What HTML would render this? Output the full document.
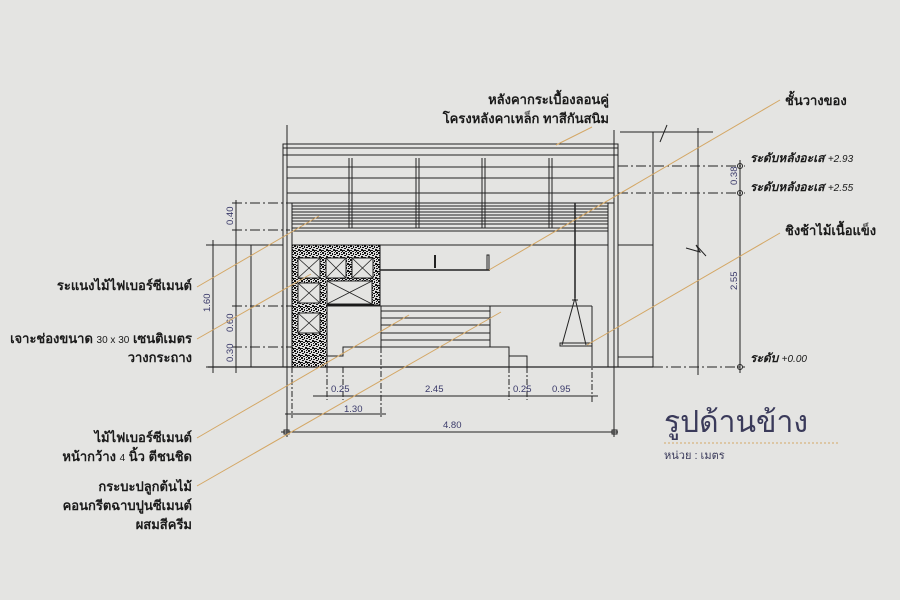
<!DOCTYPE html>
<html><head><meta charset="utf-8"><style>
html,body{margin:0;padding:0;background:#e4e4e2;}
svg{display:block}
text{font-family:"Liberation Sans","DejaVu Sans",sans-serif;}
.t{font-size:13px;fill:#1a1a1a;font-weight:bold}
.d{font-size:9.5px;fill:#3a3a6a}
.lv{font-size:12px;fill:#1a1a1a;font-style:italic;font-weight:bold}
</style></head><body>
<svg width="900" height="600" viewBox="0 0 900 600" xmlns="http://www.w3.org/2000/svg">
<defs>
<pattern id="n" width="7" height="7" patternUnits="userSpaceOnUse">
<rect width="7" height="7" fill="#ddd"/>
<rect x="0" y="0" width="2" height="2" fill="#111"/><rect x="3" y="1" width="1" height="2" fill="#111"/>
<rect x="5" y="2" width="2" height="1" fill="#111"/><rect x="1" y="3" width="2" height="1" fill="#111"/>
<rect x="4" y="4" width="2" height="2" fill="#111"/><rect x="0" y="5" width="2" height="1" fill="#111"/>
<rect x="6" y="5" width="1" height="2" fill="#111"/><rect x="2" y="6" width="2" height="1" fill="#111"/>
<rect x="5" y="0" width="1" height="1" fill="#111"/>
</pattern>
</defs>
<rect width="900" height="600" fill="#e4e4e2"/>
<g stroke="#222" stroke-width="1" fill="none">
<line x1="287" y1="125" x2="287" y2="437"/>
<line x1="614" y1="130" x2="614" y2="437"/>
<line x1="283" y1="144" x2="283" y2="367"/>
<line x1="292" y1="203" x2="292" y2="367"/>
<line x1="608" y1="203" x2="608" y2="367"/>
<line x1="618" y1="144" x2="618" y2="367"/>
<rect x="283" y="144" width="335" height="11"/>
<line x1="283" y1="148" x2="618" y2="148"/>
<rect x="287" y="155" width="327" height="38"/>
<line x1="287" y1="167" x2="614" y2="167"/>
<line x1="287" y1="178" x2="614" y2="178"/>
<g stroke-width="1">
<line x1="349" y1="158" x2="349" y2="228"/><line x1="352" y1="158" x2="352" y2="228"/>
<line x1="416" y1="158" x2="416" y2="228"/><line x1="419" y1="158" x2="419" y2="228"/>
<line x1="482" y1="158" x2="482" y2="228"/><line x1="485" y1="158" x2="485" y2="228"/>
<line x1="549" y1="158" x2="549" y2="228"/><line x1="552" y1="158" x2="552" y2="228"/>
</g>
<rect x="287" y="193" width="327" height="10"/>
<g stroke-width="1">
<line x1="292" y1="206" x2="608" y2="206"/><line x1="292" y1="209" x2="608" y2="209"/>
<line x1="292" y1="212" x2="608" y2="212"/><line x1="292" y1="215" x2="608" y2="215"/>
<line x1="292" y1="218" x2="608" y2="218"/><line x1="292" y1="221" x2="608" y2="221"/>
<line x1="292" y1="224" x2="608" y2="224"/>
</g>
<line x1="292" y1="228" x2="608" y2="228"/>
<line x1="292" y1="231" x2="608" y2="231"/>
<line x1="240" y1="245" x2="283" y2="245"/>
<line x1="292" y1="245" x2="608" y2="245"/>
<line x1="618" y1="245" x2="653" y2="245"/>
<line x1="208" y1="367" x2="653" y2="367" stroke-width="1.3"/>
<line x1="618" y1="357" x2="653" y2="357"/>
<line x1="251" y1="245" x2="251" y2="367"/>
</g>
<path d="M292 245 H380 V305 H327 V367 H292 Z" fill="url(#n)" stroke="#111"/>
<g stroke="#222" fill="#e4e4e2" stroke-width="1">
<rect x="298" y="258" width="22" height="20"/><rect x="326" y="258" width="20" height="20"/><rect x="352" y="258" width="21" height="20"/>
<rect x="298" y="283" width="22" height="20"/><rect x="327" y="281" width="45" height="23"/>
<rect x="298" y="313" width="22" height="20"/>
</g>
<g stroke="#222" stroke-width="0.8">
<path d="M298 258 L320 278 M320 258 L298 278 M326 258 L346 278 M346 258 L326 278 M352 258 L373 278 M373 258 L352 278"/>
<path d="M298 283 L320 303 M320 283 L298 303 M327 281 L372 304 M372 281 L327 304 M298 313 L320 333 M320 313 L298 333"/>
</g>
<g stroke="#222" fill="none" stroke-width="1">
<line x1="380" y1="270" x2="490" y2="270" stroke-width="1.5"/>
<line x1="435" y1="255" x2="435" y2="268" stroke-width="2"/>
<rect x="487" y="255" width="2" height="15"/>
<line x1="327" y1="306" x2="592" y2="306"/>
<line x1="592" y1="306" x2="592" y2="360"/>
<rect x="381" y="306" width="109" height="41"/>
<line x1="381" y1="311" x2="490" y2="311"/><line x1="381" y1="318" x2="490" y2="318"/>
<line x1="381" y1="325" x2="490" y2="325"/><line x1="381" y1="333" x2="490" y2="333"/>
<line x1="381" y1="340" x2="490" y2="340"/>
<path d="M327 356 H343 V347 H509 V367 M509 356 H527 V367"/>
<line x1="575" y1="203" x2="575" y2="298" stroke-width="1.5"/>
<path d="M575 298 L562 345 M575 298 L586 345 M572 300 L578 300"/>
<rect x="560" y="343" width="32" height="3"/>
</g>
<g stroke="#222" stroke-width="1" fill="none">
<line x1="213" y1="240" x2="213" y2="373"/>
<line x1="236" y1="200" x2="236" y2="373"/>
<line x1="206" y1="245" x2="240" y2="245"/>
<line x1="206" y1="367" x2="240" y2="367"/>
<g stroke-dasharray="10 3 2 3">
<line x1="232" y1="203" x2="290" y2="203"/><line x1="232" y1="230" x2="290" y2="230"/>
<line x1="232" y1="306" x2="292" y2="306"/><line x1="232" y1="347" x2="292" y2="347"/>
<line x1="618" y1="166" x2="745" y2="166"/><line x1="618" y1="193" x2="745" y2="193"/>
<line x1="653" y1="367" x2="745" y2="367"/>
</g>
</g>
<text class="d" transform="translate(210,312) rotate(-90)">1.60</text>
<text class="d" transform="translate(233,225) rotate(-90)">0.40</text>
<text class="d" transform="translate(233,332) rotate(-90)">0.60</text>
<text class="d" transform="translate(233,362) rotate(-90)">0.30</text>
<g stroke="#222" stroke-width="1" fill="none">
<line x1="313" y1="396" x2="598" y2="396"/>
<line x1="285" y1="414" x2="386" y2="414"/>
<line x1="281" y1="432" x2="618" y2="432"/>
<g stroke-dasharray="6 2 2 2">
<line x1="327" y1="367" x2="327" y2="400"/><line x1="343" y1="367" x2="343" y2="400"/>
<line x1="381" y1="347" x2="381" y2="418"/><line x1="509" y1="367" x2="509" y2="400"/>
<line x1="527" y1="367" x2="527" y2="400"/><line x1="592" y1="360" x2="592" y2="402"/>
<line x1="292" y1="367" x2="292" y2="418"/>
</g>
<rect x="284" y="430" width="5" height="4"/><rect x="612" y="430" width="5" height="4"/>
</g>
<text class="d" x="331" y="392">0.25</text>
<text class="d" x="425" y="392">2.45</text>
<text class="d" x="513" y="392">0.25</text>
<text class="d" x="552" y="392">0.95</text>
<text class="d" x="344" y="412">1.30</text>
<text class="d" x="443" y="428">4.80</text>
<g stroke="#222" stroke-width="1" fill="none">
<line x1="653" y1="132" x2="653" y2="367"/>
<line x1="698" y1="128" x2="698" y2="375"/>
<line x1="620" y1="132" x2="713" y2="132"/>
<path d="M660 142 L667 125"/>
<path d="M686 248 L700 252 L696 245 L706 256"/>
<line x1="740" y1="160" x2="740" y2="373"/>
<circle cx="740" cy="166" r="2.5"/><circle cx="740" cy="193" r="2.5"/><circle cx="740" cy="367" r="2.5"/>
</g>
<text class="d" transform="translate(737,185) rotate(-90)">0.38</text>
<text class="d" transform="translate(737,290) rotate(-90)">2.55</text>
<text class="lv" x="750" y="162">ระดับหลังอะเส <tspan font-size="10" font-weight="normal">+2.93</tspan></text>
<text class="lv" x="750" y="191">ระดับหลังอะเส <tspan font-size="10" font-weight="normal">+2.55</tspan></text>
<text class="lv" x="750" y="362">ระดับ <tspan font-size="10" font-weight="normal">+0.00</tspan></text>
<g stroke="#d4a765" stroke-width="1" fill="none">
<line x1="197" y1="287" x2="319" y2="216"/>
<line x1="197" y1="339" x2="311" y2="274"/>
<line x1="197" y1="438" x2="409" y2="315"/>
<line x1="197" y1="486" x2="501" y2="312"/>
<line x1="780" y1="100" x2="489" y2="270"/>
<line x1="780" y1="233" x2="587" y2="345"/>
<line x1="592" y1="127" x2="556" y2="145"/>
</g>
<text class="t" x="609" y="104" text-anchor="end">หลังคากระเบื้องลอนคู่</text>
<text class="t" x="609" y="123" text-anchor="end">โครงหลังคาเหล็ก  ทาสีกันสนิม</text>
<text class="t" x="785" y="105">ชั้นวางของ</text>
<text class="t" x="785" y="235">ชิงช้าไม้เนื้อแข็ง</text>
<text class="t" x="192" y="290" text-anchor="end">ระแนงไม้ไฟเบอร์ซีเมนต์</text>
<text class="t" x="192" y="343" text-anchor="end">เจาะช่องขนาด <tspan font-size="10" font-weight="normal">30 x 30</tspan> เซนติเมตร</text>
<text class="t" x="192" y="362" text-anchor="end">วางกระถาง</text>
<text class="t" x="192" y="442" text-anchor="end">ไม้ไฟเบอร์ซีเมนต์</text>
<text class="t" x="192" y="461" text-anchor="end">หน้ากว้าง <tspan font-size="10" font-weight="normal">4</tspan> นิ้ว   ตีชนชิด</text>
<text class="t" x="192" y="491" text-anchor="end">กระบะปลูกต้นไม้</text>
<text class="t" x="192" y="510" text-anchor="end">คอนกรีตฉาบปูนซีเมนต์</text>
<text class="t" x="192" y="529" text-anchor="end">ผสมสีครีม</text>
<text x="664" y="432" font-size="30" fill="#3a3a5a">รูปด้านข้าง</text>
<line x1="664" y1="443" x2="840" y2="443" stroke="#d4a765" stroke-dasharray="2 2"/>
<text x="664" y="459" font-size="11" fill="#3a3a5a">หน่วย : เมตร</text>
</svg>
</body></html>
